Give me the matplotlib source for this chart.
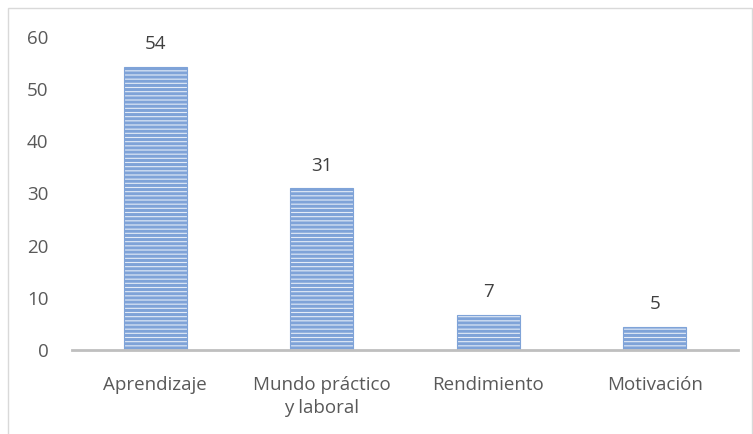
import matplotlib.pyplot as plt
from matplotlib.patches import Rectangle

plt.rcParams['font.family'] = ['Open Sans', 'DejaVu Sans']
plt.rcParams['hatch.linewidth'] = 2.2
plt.rcParams['hatch.color'] = '#5585c9'

categories = ['Aprendizaje', 'Mundo práctico\ny laboral', 'Rendimiento', 'Motivación']
values = [54, 31, 7, 5]
heights = [54.3, 31, 6.8, 4.5]

fig = plt.figure(figsize=(7.53, 4.34), dpi=100)
ax = fig.add_axes([72/753, 84/434, 666/753, 313/434])

bars = ax.bar(range(len(categories)), heights, width=0.38, color='#e4ecf7',
              edgecolor='#7fa3d8', linewidth=0.8, hatch='----')
for i, v in enumerate(values):
    ax.text(i, heights[i] + 2.6, str(v), ha='center', va='bottom',
            fontsize=13.5, color='#404040')

ax.set_xlim(-0.5, 3.5)
ax.set_ylim(0, 60)
ax.set_yticks([0, 10, 20, 30, 40, 50, 60])
ax.set_xticks(range(len(categories)))
ax.set_xticklabels(categories, linespacing=1.3)
ax.tick_params(length=0, labelsize=13.5, colors='#595959')
ax.tick_params(axis='x', pad=19)
ax.tick_params(axis='y', pad=17)
for s in ['top', 'right', 'left']:
    ax.spines[s].set_visible(False)
ax.spines['bottom'].set_color('#bfbfbf')
ax.spines['bottom'].set_linewidth(2)

fig.patches.append(Rectangle((8/753, -0.1), 744/753, 426/434 + 0.1,
                             transform=fig.transFigure, fill=False,
                             edgecolor='#d9d9d9', linewidth=1))

fig.savefig('out.png', dpi=100)
